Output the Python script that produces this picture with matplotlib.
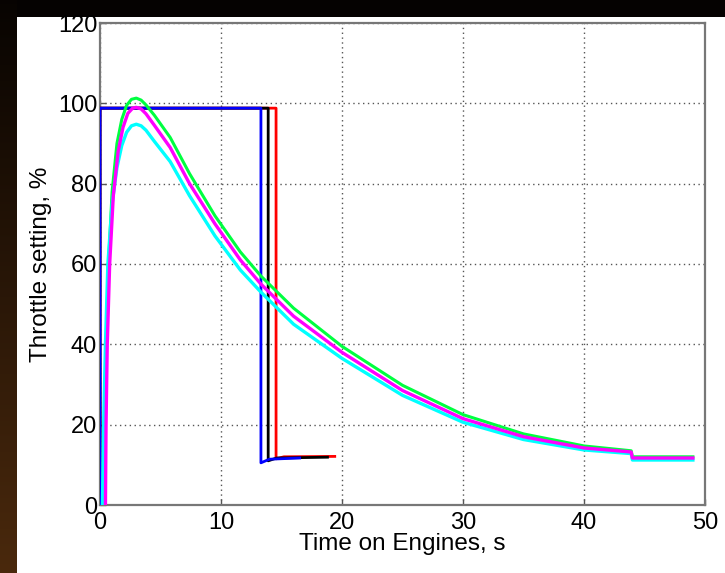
import numpy as np
import matplotlib
matplotlib.use("Agg")
import matplotlib.pyplot as plt

plt.rcParams['font.family'] = ['Liberation Sans', 'DejaVu Sans']

# ---------------- data ----------------
# step commands (blue, black, red)
blue_t = [0, 0, 13.3, 13.3, 14.0, 16.5]
blue_v = [0, 98.8, 98.8, 10.5, 11.4, 11.7]
black_t = [0, 0, 13.9, 13.9, 14.6, 18.8]
black_v = [0, 98.8, 98.8, 11.0, 11.7, 11.9]
red_t = [0, 0, 14.55, 14.55, 15.2, 19.4]
red_v = [0, 98.8, 98.8, 11.5, 12.0, 12.1]

# smooth responses
green_t = [0.35, 0.4, 0.5, 0.7, 1.0, 1.4, 1.8, 2.2, 2.6, 3.0, 3.4, 3.8, 4.5, 5.8,
           7.4, 9.5, 11.6, 13.3, 16.0, 20.0, 25.0, 30.0, 35.0, 40.0, 43.9, 44.0, 49.0]
green_v = [0, 20, 40, 60, 78, 90, 96, 99.5, 101, 101.3, 100.8, 99.6, 97, 91.5,
           82.5, 72, 63, 57, 49, 39.5, 29.8, 22.5, 17.7, 14.7, 13.5, 12.0, 12.0]

magenta_t = [0.45, 0.5, 0.6, 0.8, 1.1, 1.5, 1.9, 2.3, 2.7, 3.0, 3.4, 3.8, 4.5, 5.8,
             7.4, 9.5, 11.6, 13.3, 16.0, 20.0, 25.0, 30.0, 35.0, 40.0, 43.9, 44.0, 49.0]
magenta_v = [0, 20, 40, 60, 77, 88, 94, 97.5, 98.8, 99, 98.6, 97.4, 94.5, 89,
             80, 70, 61, 55, 47, 38, 28.5, 21.5, 17, 14.2, 13.2, 11.7, 11.7]

cyan_t = [0.2, 0.3, 0.45, 0.65, 1.0, 1.4, 1.8, 2.2, 2.6, 3.0, 3.4, 3.8, 4.5, 5.8,
          7.4, 9.5, 11.6, 13.3, 16.0, 20.0, 25.0, 30.0, 35.0, 40.0, 43.9, 44.0, 49.0]
cyan_v = [0, 20, 40, 60, 75, 84, 89.5, 92.8, 94.4, 94.8, 94.4, 93.3, 90.5, 85.5,
          77, 67, 58.5, 53, 45, 36.5, 27.3, 20.6, 16.3, 13.7, 12.8, 11.2, 11.2]

x_ticks = [0, 10, 20, 30, 40, 50]
y_ticks = [0, 20, 40, 60, 80, 100, 120]

# ---------------- figure ----------------
fig = plt.figure(figsize=(7.25, 5.73), dpi=100, facecolor='white')

# dark slide frame: top band and left gradient strip
top = fig.add_axes([0, 1 - 17 / 573, 1, 17 / 573])
top.set_axis_off()
top.add_patch(plt.Rectangle((0, 0), 1, 1, color='#050201', transform=top.transAxes))

left = fig.add_axes([0, 0, 17 / 725, 1])
grad = np.linspace(0, 1, 256)[:, None]
c0 = np.array([0.03, 0.015, 0.005])
c1 = np.array([0.29, 0.16, 0.05])
img = c0 + (c1 - c0) * grad[:, :, None]
left.imshow(img, aspect='auto', extent=[0, 1, 0, 1], origin='upper')
left.set_axis_off()

ax = fig.add_axes([100 / 725, 1 - 505 / 573, 605 / 725, 482 / 573])

ax.plot(red_t, red_v, color='#ff0000', lw=2.0, zorder=3)
ax.plot(black_t, black_v, color='black', lw=2.0, zorder=3)
ax.plot(blue_t, blue_v, color='#0000ff', lw=2.0, zorder=3)

ax.plot(green_t, green_v, color='#00ff40', lw=2.2, zorder=4)
ax.plot(cyan_t, cyan_v, color='#00ffff', lw=2.4, zorder=4)
ax.plot(magenta_t, magenta_v, color='#ff00ff', lw=2.4, zorder=4)

ax.set_xlim(0, 50)
ax.set_ylim(0, 120)
ax.set_xticks(x_ticks)
ax.set_yticks(y_ticks)
ax.tick_params(direction='in', length=4, width=1, labelsize=17, color='#555555')
ax.tick_params(axis='x', pad=5)
ax.tick_params(axis='y', pad=2)
ax.grid(True, linestyle=(0, (1, 2.5)), color='#555555', lw=1.0)
for s in ax.spines.values():
    s.set_color('#777777')
    s.set_linewidth(1.6)

ax.set_xlabel('Time on Engines, s', fontsize=17.5, labelpad=-1)
ax.set_ylabel('Throttle setting, %', fontsize=17.5, labelpad=4)

fig.savefig('out.png', dpi=100)
